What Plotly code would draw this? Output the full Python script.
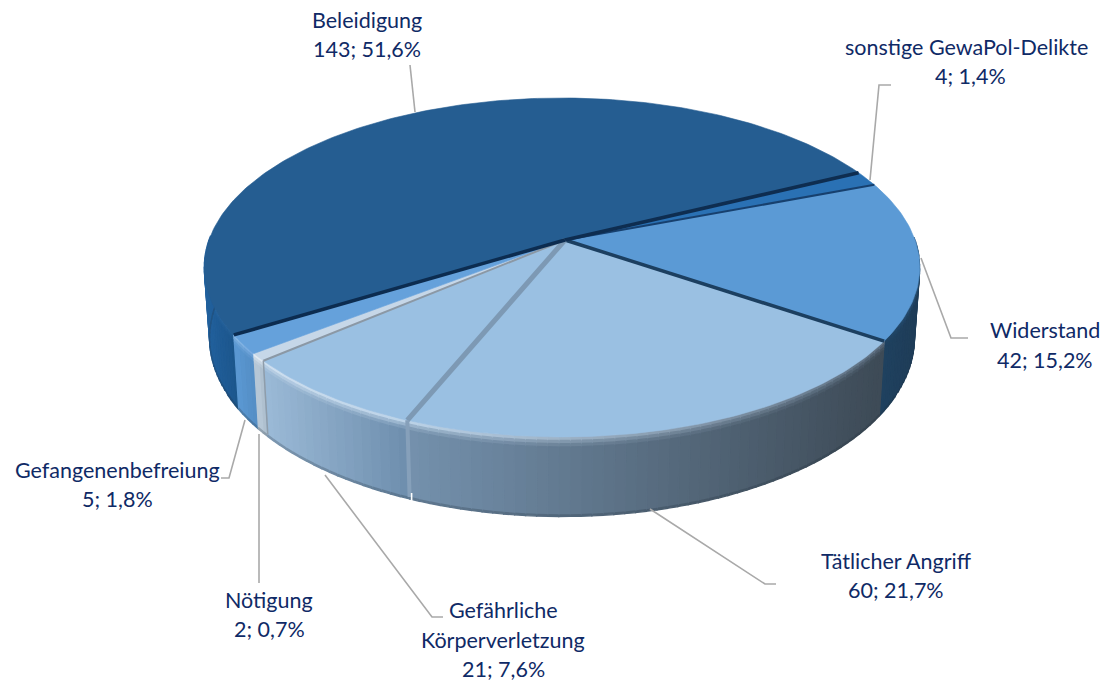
import numpy as np
import plotly.graph_objects as go

categories = ["sonstige GewaPol-Delikte", "Widerstand", "Tätlicher Angriff",
              "Gefährliche Körperverletzung", "Nötigung", "Gefangenenbefreiung", "Beleidigung"]
values = [4, 42, 60, 21, 2, 5, 143]
percent_labels = ["1,4%", "15,2%", "21,7%", "7,6%", "0,7%", "1,8%", "51,6%"]

face_colors = ["#2a71b4", "#5b9ad5", "#9ac0e2", "#9ac0e2", "#c6d7e8", "#65a1db", "#255d91"]
wall_left = ["#1f5c98", "#1f4261", "#7592ae", "#9dbcd9", "#c2d3e2", "#5d9bd6", "#22619d"]
wall_right = ["#1f5c98", "#1f3d58", "#3e4b57", "#6f8fae", "#aebfce", "#558fc6", "#1b5488"]
wall_x = [(850, 880), (880, 920), (405, 880), (258, 405), (248, 262), (230, 250), (205, 240)]
rim_left = ["#2a71b4", "#1f4261", "#bcd3e8", "#cfe0f0", "#dfe9f2", "#8dbbe6", "#2a69a6"]
rim_right = ["#2a71b4", "#2a5378", "#5f7183", "#bcd3e8", "#dfe9f2", "#78abe0", "#255d91"]
sep_colors = ["#17406e", "#1c3f60", "#7d99b4", "#8b98a5", "#65a1db", "#0c2c50", "#0e2d50"]
sep_widths = [2, 3.5, 5, 2, 0.1, 3.5, 3.5]

START, CX, CY, RX, RY, K, DEPTH, SHRINK = 25.9, 565, 240, 353, 165, 0.162, 70, 0.985
total = sum(values)
bounds = START - np.cumsum([0] + values) * 360 / total


def top(t):
    t = np.radians(t)
    d = 1 + K * np.sin(t)
    return CX - 3 + RX * np.cos(t) / d, CY - RY * np.sin(t) / d


def bottom(t):
    x, y = top(t)
    d = 1 + K * np.sin(np.radians(t))
    return CX - 3 + (x - CX + 3) * SHRINK, CY + (y - CY) * 0.98 + DEPTH / d


def hex2rgb(c):
    return np.array([int(c[i:i + 2], 16) for i in (1, 3, 5)], float)


def mix(a, b, f):
    v = hex2rgb(a) * (1 - f) + hex2rgb(b) * f
    return "#%02x%02x%02x" % tuple(int(p) for p in v)


fig = go.Figure()


def poly(x, y, color, lw=0.6):
    fig.add_trace(go.Scatter(x=list(x) + [x[0]], y=list(y) + [y[0]], mode="lines", fill="toself",
                             fillcolor=color, line=dict(color=color, width=lw),
                             hoverinfo="skip", showlegend=False))


# side wall, far parts first
order = [6, 1, 0, 5, 4, 3, 2]
for i in order:
    a0, a1 = bounds[i], bounds[i + 1]
    n = max(2, int(abs(a1 - a0) / 1.5))
    ts = np.linspace(a0, a1, n + 1)
    for j in range(n):
        t0, t1 = ts[j], ts[j + 1]
        if np.sin(np.radians((t0 + t1) / 2)) > 0.03:
            continue
        xa, ya = top(t0); xb, yb = top(t1)
        xc, yc = bottom(t1); xd, yd = bottom(t0)
        f = np.clip(((xa + xb) / 2 - wall_x[i][0]) / (wall_x[i][1] - wall_x[i][0]), 0, 1)
        base = mix(wall_left[i], wall_right[i], f)
        light = mix(rim_left[i], rim_right[i], f)
        bands = [(0, .045, light), (.045, .085, mix(base, light, .55)), (.085, .125, mix(base, light, .2)),
                 (.125, .98, base), (.98, 1, mix(base, "#22303c", .25))]
        for b0, b1, col in bands:
            poly([xa + (xd - xa) * b0, xb + (xc - xb) * b0, xb + (xc - xb) * b1, xa + (xd - xa) * b1],
                 [ya + (yd - ya) * b0, yb + (yc - yb) * b0, yb + (yc - yb) * b1, ya + (yd - ya) * b1], col, 1.3)

# top faces
for i in range(len(values)):
    ts = np.linspace(bounds[i], bounds[i + 1], max(3, int(abs(bounds[i + 1] - bounds[i]))))
    x, y = top(ts)
    poly([CX] + list(x), [CY] + list(y), face_colors[i])

# separators on the top face
for i in range(len(values)):
    x, y = top(bounds[i + 1])
    fig.add_trace(go.Scatter(x=[CX, x], y=[CY, y], mode="lines", hoverinfo="skip", showlegend=False,
                             line=dict(color=sep_colors[i], width=sep_widths[i])))

# lit seams on the wall between front slices
for i, col, w in [(2, "#86a0ba", 4), (3, "#8f9daa", 1.5)]:
    xa, ya = top(bounds[i + 1]); xb, yb = bottom(bounds[i + 1])
    fig.add_trace(go.Scatter(x=[xa, xb], y=[ya, yb - 2], mode="lines", hoverinfo="skip", showlegend=False,
                             line=dict(color=col, width=w)))
xb, yb = bottom(bounds[3])
fig.add_trace(go.Scatter(x=[xb + 2, xb + 2], y=[yb - 6, yb + 2], mode="lines", hoverinfo="skip", showlegend=False,
                         line=dict(color="white", width=1.6)))

# leader lines
leaders = {
    "Beleidigung": [(415, 112), (410, 65)],
    "sonstige GewaPol-Delikte": [(870, 180), (879, 85), (891, 85)],
    "Widerstand": [(921, 258), (951, 338), (968, 338)],
    "Tätlicher Angriff": [(650, 509), (765, 584), (776, 584)],
    "Gefährliche Körperverletzung": [(325, 475), (432, 617), (443, 617)],
    "Nötigung": [(259, 434), (259, 583)],
    "Gefangenenbefreiung": [(245, 420), (229, 478), (221, 478)],
}
for pts in leaders.values():
    fig.add_trace(go.Scatter(x=[p[0] for p in pts], y=[p[1] for p in pts], mode="lines",
                             hoverinfo="skip", showlegend=False, line=dict(color="#a9a9a9", width=1.6)))

# labels: one annotation per line
label_pos = {
    "sonstige GewaPol-Delikte": [(966, 47), (970, 76)],
    "Widerstand": [(1045, 330), (1045, 360)],
    "Tätlicher Angriff": [(896, 561), (896, 590)],
    "Gefährliche Körperverletzung": [(503, 610), (503, 640), (503, 669)],
    "Nötigung": [(269, 600), (269, 629)],
    "Gefangenenbefreiung": [(117, 470), (117, 499)],
    "Beleidigung": [(367, 20), (367, 49)],
}
for c, v, p in zip(categories, values, percent_labels):
    if c == "Gefährliche Körperverletzung":
        lines = ["Gefährliche", "Körperverletzung"]
    else:
        lines = [c]
    lines.append(f"{v}; {p}")
    for line, (x, y) in zip(lines, label_pos[c]):
        fig.add_annotation(x=x, y=y, text=line, showarrow=False, xanchor="center", yanchor="middle",
                           font=dict(family="Lato", size=21.5, color="#0f2a66"))

fig.update_layout(
    width=1107, height=682, margin=dict(l=0, r=0, t=0, b=0),
    paper_bgcolor="white", plot_bgcolor="white", showlegend=False,
    xaxis=dict(range=[0, 1107], visible=False, fixedrange=True),
    yaxis=dict(range=[682, 0], visible=False, fixedrange=True),
)
fig.write_html("out.html", config={"displayModeBar": False},
               post_script="document.body.style.margin='0';document.documentElement.style.overflow='hidden';")
